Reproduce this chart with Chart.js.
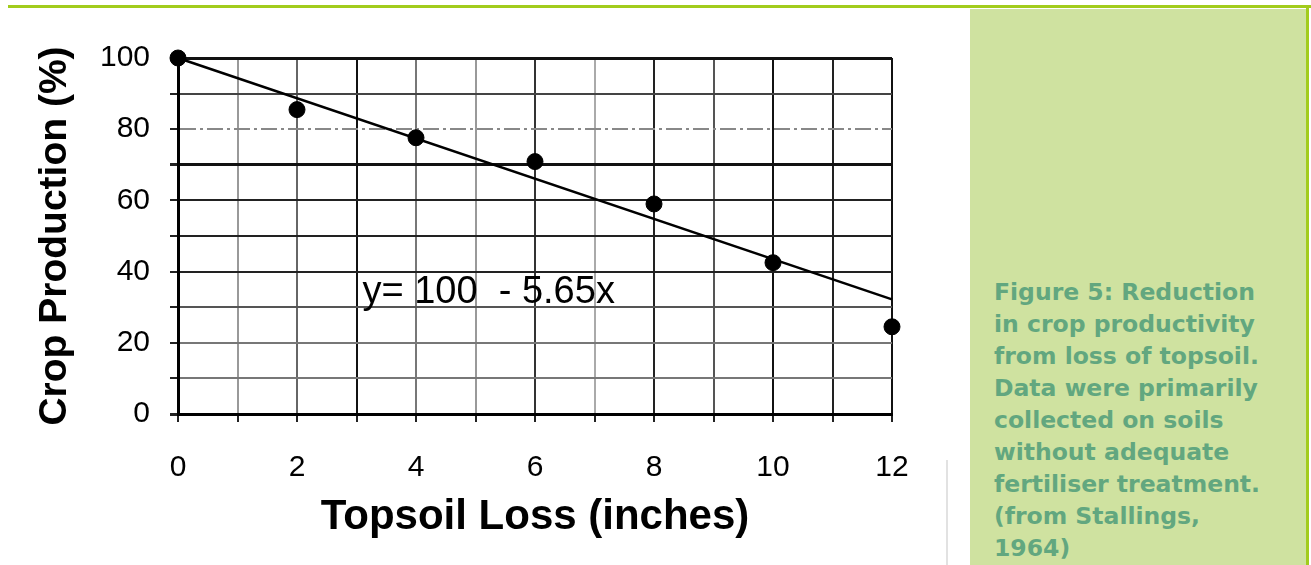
<!DOCTYPE html>
<html>
<head>
<meta charset="utf-8">
<script src="https://cdn.jsdelivr.net/npm/chart.js@4/dist/chart.umd.min.js"></script>
<style>
  body { margin: 0; background: #fff; width: 1311px; height: 565px; overflow: hidden; position: relative; }
  #wrap { position: absolute; left: 0; top: 0; width: 960px; height: 565px; }
  #topline { position: absolute; left: 8px; top: 5px; width: 1303px; height: 3px; background: #a2cc1c; }
  #rightline { position: absolute; left: 1306px; top: 5px; width: 3px; height: 560px; background: #a2cc1c; }
  #panel { position: absolute; left: 970px; top: 9px; width: 336px; height: 556px; background: #cfe2a0; }
  #caption { position: absolute; left: 994px; top: 276px; font: bold 23.5px "DejaVu Sans", Verdana, sans-serif;
             line-height: 32px; color: #62a77f; white-space: nowrap; }
  #scanedge { position: absolute; left: 946px; top: 460px; width: 2px; height: 105px; background: #e2e2e2; }
</style>
</head>
<body>
<div id="topline"></div>
<div id="panel"></div>
<div id="rightline"></div>
<div id="scanedge"></div>
<div id="caption">Figure 5: Reduction<br>in crop productivity<br>from loss of topsoil.<br>Data were primarily<br>collected on soils<br>without adequate<br>fertiliser treatment.<br>(from Stallings,<br>1964)</div>
<div id="wrap"><canvas id="chartId"></canvas></div>
<script>
// measured points (topsoil loss in inches, crop production %)
var lossInches = [0, 2, 4, 6, 8, 10, 12];
var cropPct = [100, 85.5, 77.6, 70.9, 59, 42.5, 24.5];

// fitted line y = 100 - 5.65x, end points
var fitX = [0, 12];
var fitY = [100, 32.2];
var fitLabel = 'y= 100  - 5.65x';

// axis ticks
var xTickLabels = ['0', '', '2', '', '4', '', '6', '', '8', '', '10', '', '12'];
var yTickLabels = ['0', '', '20', '', '40', '', '60', '', '80', '', '100'];

// scanned look of the grid
var xGridShade = ['#111', '#999', '#666', '#111', '#777', '#999', '#333', '#aaa', '#222', '#555', '#111', '#222', '#111'];
var yGridShade = ['#111', '#777', '#777', '#555', '#222', '#222', '#222', '#111', '#888', '#444', '#111'];

// Function to write the equation in the middle of the plot
var equationText = {
  id: 'equationText',
  afterDatasetsDraw(chart) {
    var c = chart.ctx;
    var xs = chart.scales.x, ys = chart.scales.y;
    c.save();
    c.font = '500 38px "Liberation Sans", Arial, sans-serif';
    c.fillStyle = '#000';
    c.textBaseline = 'middle';
    c.fillText(fitLabel, xs.getPixelForValue(3.1), ys.getPixelForValue(34.2));
    c.restore();
  }
};

var chrt = document.getElementById('chartId').getContext('2d');
var chartId = new Chart(chrt, {
  type: 'scatter',
  data: {
    datasets: [{
      label: 'Crop production',
      data: lossInches.map((x, i) => ({ x: x, y: cropPct[i] })),
      backgroundColor: '#000',
      borderColor: '#000',
      pointRadius: 8,
      pointHoverRadius: 8,
      clip: false,
      order: 1
    }, {
      type: 'line',
      label: 'Fit',
      data: fitX.map((x, i) => ({ x: x, y: fitY[i] })),
      borderColor: '#000',
      borderWidth: 2.5,
      pointRadius: 0,
      fill: false,
      clip: false,
      order: 2
    }]
  },
  options: {
    responsive: true,
    maintainAspectRatio: false,
    animation: false,
    layout: { padding: { top: 58, right: 68, left: 0, bottom: 0 } },
    plugins: {
      legend: { display: false },
      tooltip: { enabled: false }
    },
    scales: {
      x: {
        type: 'linear',
        min: 0,
        max: 12,
        afterFit: s => { s.height = 151; },
        ticks: {
          stepSize: 1,
          autoSkip: false,
          maxRotation: 0,
          padding: 28,
          color: '#000',
          font: { family: '"Liberation Sans", Arial, sans-serif', size: 30 },
          callback: (v, i) => xTickLabels[i]
        },
        grid: {
          color: ctx => xGridShade[ctx.index] || '#111',
          lineWidth: 2,
          tickLength: 8,
          tickColor: '#222'
        },
        border: { color: '#000', width: 3 },
        title: {
          display: true,
          text: 'Topsoil Loss (inches)',
          color: '#000',
          font: { family: '"Liberation Sans", Arial, sans-serif', size: 42, weight: 'bold' },
          padding: { top: 0, bottom: 22 }
        }
      },
      y: {
        min: 0,
        max: 100,
        afterFit: s => { s.width = 178; },
        ticks: {
          stepSize: 10,
          autoSkip: false,
          padding: 20,
          color: '#000',
          font: { family: '"Liberation Sans", Arial, sans-serif', size: 30 },
          callback: (v, i) => yTickLabels[i]
        },
        grid: {
          color: ctx => yGridShade[ctx.index] || '#111',
          lineWidth: ctx => (ctx.index === 0 || ctx.index === 7 || ctx.index === 10) ? 3 : 2,
          tickLength: 8,
          tickColor: '#222'
        },
        border: {
          color: '#000',
          width: 3,
          dash: ctx => (ctx.tick && ctx.index === 8) ? [16, 4, 3, 4] : []
        },
        title: {
          display: true,
          text: 'Crop Production (%)',
          color: '#000',
          font: { family: '"Liberation Sans", Arial, sans-serif', size: 39, weight: 'bold' },
          padding: { top: 32, bottom: 0 }
        }
      }
    }
  },
  plugins: [equationText]
});
</script>
</body>
</html>
